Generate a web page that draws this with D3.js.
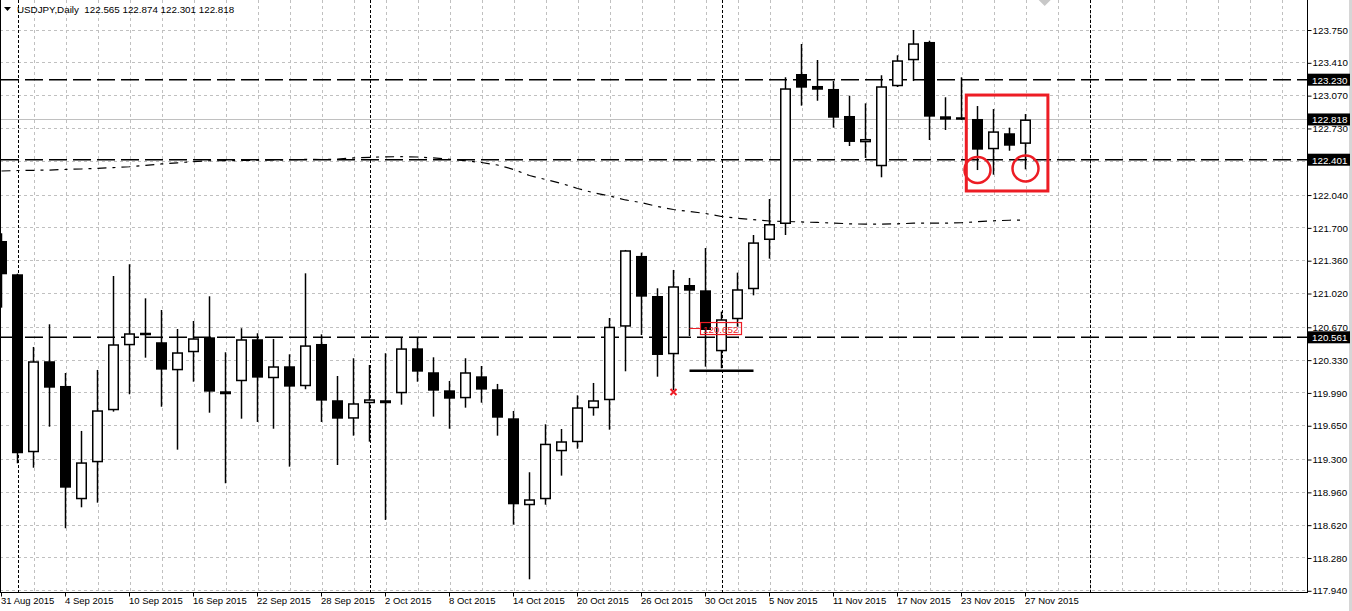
<!DOCTYPE html>
<html>
<head>
<meta charset="utf-8">
<script src="https://cdnjs.cloudflare.com/ajax/libs/d3/7.8.5/d3.min.js"></script>
<style>
body { margin: 0; background: #fff; }
svg text { font-family: "Liberation Sans", Arial, sans-serif; font-size: 9.8px; }
</style>
</head>
<body>
<div id="chart"></div>
<script>
// daily bars 31 Aug 2015 .. 27 Nov 2015
var dateLabels = ["31 Aug 2015", "4 Sep 2015", "10 Sep 2015", "16 Sep 2015", "22 Sep 2015", "28 Sep 2015",
    "2 Oct 2015", "8 Oct 2015", "14 Oct 2015", "20 Oct 2015", "26 Oct 2015", "30 Oct 2015",
    "5 Nov 2015", "11 Nov 2015", "17 Nov 2015", "23 Nov 2015", "27 Nov 2015"];

var open = [121.559, 121.214, 119.370, 120.313, 120.057, 118.883, 119.266, 119.805, 120.478, 120.606,
    120.510, 120.219, 120.406, 120.561, 120.002, 120.106, 120.541, 120.137, 120.261, 120.054,
    120.492, 119.909, 119.718, 119.878, 119.909, 119.981, 120.447, 120.199, 120.012, 119.929,
    120.157, 120.023, 119.722, 118.821, 118.883, 119.380, 119.474, 119.826, 119.909, 120.671,
    121.404, 120.989, 120.385, 121.103, 121.048, 120.416, 120.748, 121.059, 121.569, 121.735,
    123.289, 123.165, 123.134, 122.854, 122.581, 122.333, 123.162, 123.431, 123.621, 122.851,
    122.840, 122.823, 122.509, 122.675, 122.565];
var high = [121.639, 121.220, 120.461, 120.696, 120.191, 119.591, 120.223, 121.196, 121.318, 120.965,
    120.844, 120.647, 120.730, 120.986, 120.406, 120.655, 120.603, 120.544, 120.385, 121.224,
    120.592, 120.160, 120.344, 120.274, 120.396, 120.561, 120.561, 120.354, 120.109, 120.344,
    120.264, 120.078, 119.798, 119.163, 119.660, 119.611, 119.960, 120.088, 120.761, 121.466,
    121.438, 121.069, 121.259, 121.176, 121.486, 120.827, 121.231, 121.621, 121.994, 123.255,
    123.600, 123.434, 123.216, 123.064, 122.985, 123.276, 123.483, 123.745, 123.634, 123.048,
    123.255, 122.957, 122.926, 122.733, 122.874];
var low = [120.868, 119.256, 119.210, 119.635, 118.583, 118.800, 118.848, 119.791, 119.971, 120.350,
    119.842, 119.397, 120.101, 119.780, 119.049, 119.718, 119.684, 119.614, 119.221, 120.023,
    119.684, 119.238, 119.542, 119.480, 118.669, 119.863, 120.101, 119.739, 119.614, 119.832,
    119.884, 119.542, 118.620, 118.054, 118.827, 119.128, 119.407, 119.749, 119.604, 120.209,
    120.585, 120.153, 120.015, 120.575, 120.257, 120.240, 120.671, 120.996, 121.376, 121.621,
    122.961, 123.012, 122.733, 122.543, 122.419, 122.219, 123.154, 123.216, 122.605, 122.709,
    122.812, 122.294, 122.246, 122.494, 122.301];
var close = [121.214, 119.360, 120.313, 120.039, 119.003, 119.266, 119.805, 120.489, 120.603, 120.585,
    120.226, 120.406, 120.551, 119.998, 119.971, 120.541, 120.143, 120.261, 120.050, 120.478,
    119.905, 119.718, 119.878, 119.919, 119.878, 120.447, 120.205, 120.008, 119.925, 120.199,
    120.019, 119.728, 118.831, 118.883, 119.459, 119.484, 119.836, 119.909, 120.671, 121.463,
    120.982, 120.378, 121.090, 121.044, 120.637, 120.748, 121.059, 121.545, 121.735, 123.141,
    123.147, 123.126, 122.836, 122.585, 122.616, 123.162, 123.431, 123.607, 122.847, 122.816,
    122.816, 122.505, 122.695, 122.546, 122.818];

// moving average (dash-dot line)
var ma = [122.284, 122.289, 122.291, 122.294, 122.300, 122.305, 122.311, 122.319, 122.328, 122.343,
    122.357, 122.369, 122.382, 122.390, 122.391, 122.393, 122.396, 122.398, 122.401, 122.404,
    122.403, 122.408, 122.419, 122.426, 122.431, 122.432, 122.429, 122.419, 122.406, 122.390,
    122.372, 122.346, 122.300, 122.237, 122.196, 122.155, 122.103, 122.059, 122.025, 121.984,
    121.956, 121.916, 121.885, 121.864, 121.844, 121.813, 121.794, 121.781, 121.766, 121.761,
    121.756, 121.751, 121.745, 121.737, 121.733, 121.733, 121.737, 121.743, 121.743, 121.743,
    121.748, 121.759, 121.768, 121.774, 121.777];

var priceTicks = [123.750, 123.410, 123.070, 122.730, 122.390, 122.040, 121.700, 121.360, 121.020,
    120.670, 120.330, 119.990, 119.650, 119.300, 118.960, 118.620, 118.280, 117.940];
var levels = [123.230, 122.401, 120.561];
var bid = 122.818;
var separators = [1, 23, 45, 68];

// annotations
var box = { i0: 60.3, i1: 65.4, p0: 123.071, p1: 122.077 };
var circles = [{ i: 61, p: 122.294 }, { i: 64, p: 122.310 }];
var priceLabel = { i: 43, p: 120.652, text: "120.652" };
var cross = { i: 42, p: 119.994 };
var trend = { i0: 43, i1: 47, p: 120.215 };

var W = 1352, H = 611;
var right = 1307, bottom = 592;
var red = "#ed1c24";
var font = "Liberation Sans, Arial, sans-serif";

var svg = d3.select("#chart").append("svg")
    .attr("width", W).attr("height", H);

var x = d3.scaleLinear().domain([0, 64]).range([1.5, 1025.5]);
var y = d3.scaleLinear().domain([117.94, 123.75]).range([590.3, 29.5]);

svg.append("clipPath").attr("id", "plot")
    .append("rect").attr("x", 0).attr("y", 0).attr("width", right).attr("height", bottom);

var g = svg.append("g").attr("clip-path", "url(#plot)");

// grid
var gridX = d3.range(2, 82, 2);
g.selectAll(".gx").data(gridX).enter().append("line")
    .attr("x1", function(d) { return Math.round(x(d)) + 0.5; })
    .attr("x2", function(d) { return Math.round(x(d)) + 0.5; })
    .attr("y1", 0).attr("y2", bottom)
    .attr("stroke", "#c0c0c0").attr("stroke-dasharray", "3,3");
g.selectAll(".gy").data(priceTicks).enter().append("line")
    .attr("x1", 0).attr("x2", right)
    .attr("y1", function(d) { return Math.round(y(d)) + 0.5; })
    .attr("y2", function(d) { return Math.round(y(d)) + 0.5; })
    .attr("stroke", "#c0c0c0").attr("stroke-dasharray", "3,3");

// month separators
g.selectAll(".sep").data(separators).enter().append("line")
    .attr("x1", function(d) { return Math.round(x(d)) + 0.5; })
    .attr("x2", function(d) { return Math.round(x(d)) + 0.5; })
    .attr("y1", 0).attr("y2", bottom)
    .attr("stroke", "#000").attr("stroke-dasharray", "3,2");

// bid line
g.append("line")
    .attr("x1", 0).attr("x2", right)
    .attr("y1", Math.round(y(bid)) + 0.5).attr("y2", Math.round(y(bid)) + 0.5)
    .attr("stroke", "#c0c0c0");

// horizontal levels
g.selectAll(".lvl").data(levels).enter().append("line")
    .attr("x1", 1).attr("x2", right)
    .attr("y1", function(d) { return y(d); })
    .attr("y2", function(d) { return y(d); })
    .attr("stroke", "#000").attr("stroke-width", 1.5)
    .attr("stroke-dasharray", "18,6");

// moving average
var line = d3.line()
    .x(function(d, i) { return x(i); })
    .y(function(d) { return y(d); });
g.append("path")
    .attr("d", line(ma))
    .attr("fill", "none")
    .attr("stroke", "#000").attr("stroke-width", 1.2)
    .attr("stroke-dasharray", "9,6,3,6");

// candles
var bars = d3.range(open.length);
g.selectAll(".wick").data(bars).enter().append("line")
    .attr("x1", function(i) { return x(i); })
    .attr("x2", function(i) { return x(i); })
    .attr("y1", function(i) { return y(high[i]); })
    .attr("y2", function(i) { return y(low[i]); })
    .attr("stroke", "#000").attr("stroke-width", 1.5);

g.selectAll(".body").data(bars).enter().append("rect")
    .attr("x", function(i) { return close[i] > open[i] ? x(i) - 4.75 : x(i) - 5.5; })
    .attr("width", function(i) { return close[i] > open[i] ? 9.5 : 11; })
    .attr("y", function(i) {
        var top = y(Math.max(open[i], close[i]));
        var h = Math.abs(y(open[i]) - y(close[i]));
        if (h < 2.5) top = top - (2.5 - h) / 2;
        return close[i] > open[i] ? top + 0.75 : top;
    })
    .attr("height", function(i) {
        var h = Math.max(Math.abs(y(open[i]) - y(close[i])), 2.5);
        return close[i] > open[i] ? Math.max(h - 1.5, 0.5) : h;
    })
    .attr("fill", function(i) { return close[i] > open[i] ? "#fff" : "#000"; })
    .attr("stroke", function(i) { return close[i] > open[i] ? "#000" : "none"; })
    .attr("stroke-width", 1.5);

// black trend line
g.append("line")
    .attr("x1", x(trend.i0)).attr("x2", x(trend.i1))
    .attr("y1", y(trend.p)).attr("y2", y(trend.p))
    .attr("stroke", "#000").attr("stroke-width", 2.5);

// red cross
var cx = x(cross.i), cy = y(cross.p);
g.append("path")
    .attr("d", "M" + (cx - 3) + "," + (cy - 3) + "L" + (cx + 3) + "," + (cy + 3) +
        "M" + (cx + 3) + "," + (cy - 3) + "L" + (cx - 3) + "," + (cy + 3))
    .attr("stroke", red).attr("stroke-width", 2);

// red price label
var lx = x(priceLabel.i), ly = y(priceLabel.p);
g.append("line")
    .attr("x1", lx).attr("x2", lx + 10.5)
    .attr("y1", ly).attr("y2", ly)
    .attr("stroke", red).attr("stroke-width", 1);
g.append("rect")
    .attr("x", lx + 11).attr("y", ly - 6).attr("width", 41).attr("height", 12)
    .attr("fill", "none").attr("stroke", red).attr("stroke-width", 1.2);
g.append("text")
    .attr("x", lx + 13.5).attr("y", ly + 4)
    .attr("fill", red)
    .text(priceLabel.text);

// red box and circles
g.append("rect")
    .attr("x", x(box.i0)).attr("y", y(box.p0))
    .attr("width", x(box.i1) - x(box.i0)).attr("height", y(box.p1) - y(box.p0))
    .attr("fill", "none").attr("stroke", red).attr("stroke-width", 3);
g.selectAll(".circ").data(circles).enter().append("circle")
    .attr("cx", function(d) { return x(d.i); })
    .attr("cy", function(d) { return y(d.p); })
    .attr("r", 13)
    .attr("fill", "none").attr("stroke", red).attr("stroke-width", 2.5);

// borders
svg.append("line").attr("x1", 0.5).attr("x2", 0.5).attr("y1", 0).attr("y2", bottom)
    .attr("stroke", "#000");
svg.append("line").attr("x1", right + 0.5).attr("x2", right + 0.5).attr("y1", 0).attr("y2", bottom + 0.5)
    .attr("stroke", "#000");
svg.append("line").attr("x1", 0).attr("x2", right + 1).attr("y1", bottom + 0.5).attr("y2", bottom + 0.5)
    .attr("stroke", "#000");
svg.append("rect").attr("x", 1349).attr("y", 0).attr("width", 3).attr("height", H)
    .attr("fill", "#d6d6d6");

// price axis
var yAxis = svg.append("g")
    .attr("transform", "translate(" + (right + 0.5) + ",0.5)")
    .call(d3.axisRight(y).tickValues(priceTicks).tickSize(4).tickSizeOuter(0)
        .tickFormat(d3.format(".3f")));
yAxis.select(".domain").remove();
yAxis.selectAll("text").attr("x", 5).attr("fill", "#000")
    .style("font-family", font).style("font-size", "9.8px");

var marks = levels.concat([bid]);
var tags = svg.selectAll(".tag").data(marks).enter().append("g")
    .attr("transform", function(d) { return "translate(" + (right + 1) + "," + y(d) + ")"; });
tags.append("rect")
    .attr("x", 0).attr("y", -6).attr("width", 42).attr("height", 12)
    .attr("fill", "#000");
tags.append("text")
    .attr("x", 4).attr("y", 3.8)
    .attr("fill", "#fff")
    .text(function(d) { return d3.format(".3f")(d); });

// date axis
var dateIdx = dateLabels.map(function(d, i) { return i * 4; });
var xAxis = svg.append("g")
    .attr("transform", "translate(0," + (bottom + 0.5) + ")")
    .call(d3.axisBottom(x).tickValues(dateIdx).tickSize(4).tickSizeOuter(0)
        .tickFormat(function(d) { return dateLabels[d / 4]; }));
xAxis.select(".domain").remove();
xAxis.selectAll("line").attr("transform", "translate(-0.5,0)");
xAxis.selectAll("text")
    .attr("text-anchor", "start").attr("x", -1).attr("y", 5).attr("dy", "0.71em")
    .attr("fill", "#000")
    .style("font-family", font).style("font-size", "9.5px");

// header
svg.append("path").attr("d", "M4,7L11,7L7.5,11Z").attr("fill", "#000");
svg.append("text")
    .attr("x", 17).attr("y", 13)
    .attr("fill", "#000")
    .style("white-space", "pre")
    .text("USDJPY,Daily  " + [open[64], high[64], low[64], close[64]].map(d3.format(".3f")).join(" "));

// chart shift marker
var sx = x(65.2);
svg.append("path").attr("d", "M" + (sx - 6) + ",0L" + (sx + 6) + ",0L" + sx + ",6Z").attr("fill", "#c8c8c8");
</script>
</body>
</html>
